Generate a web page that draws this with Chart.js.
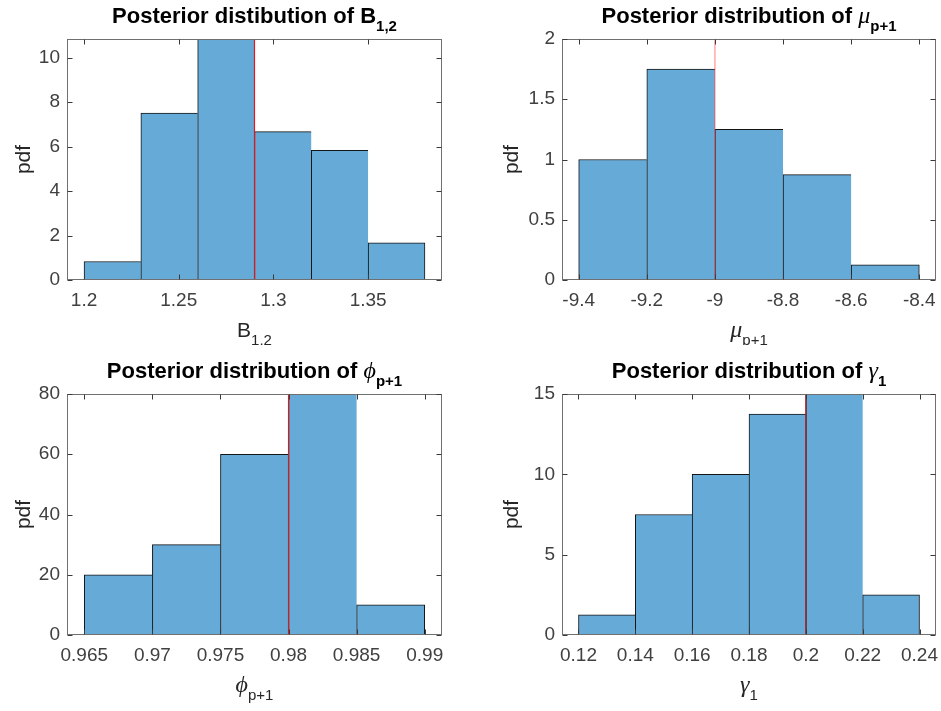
<!DOCTYPE html>
<html>
<head>
<meta charset="utf-8">
<script src="https://cdn.jsdelivr.net/npm/chart.js@4.4.0/dist/chart.umd.min.js"></script>
<style>
  html, body { margin: 0; padding: 0; background: #fff; }
  #wrap { position: relative; width: 941px; height: 711px; overflow: hidden; }
  canvas { position: absolute; }
</style>
</head>
<body>
<div id="wrap">
  <canvas id="cB" width="470" height="345" style="left:0;top:0"></canvas>
  <canvas id="cMu" width="471" height="345" style="left:470px;top:0"></canvas>
  <canvas id="cPhi" width="470" height="366" style="left:0;top:345px"></canvas>
  <canvas id="cGamma" width="471" height="366" style="left:470px;top:345px"></canvas>
</div>
<script>
// --- DATA: bin edges, pdf heights, true values, axis ticks ---
const bEdges = [1.20, 1.23, 1.26, 1.29, 1.32, 1.35, 1.38];
const bPdf = [0.833, 7.5, 10.833, 6.667, 5.833, 1.667];
const bTrue = 1.29;
const bXTicks = [1.2, 1.25, 1.3, 1.35];
const bYTicks = [0, 2, 4, 6, 8, 10];
const bXRange = [1.191, 1.389];
const bYRange = [0, 10.833];

const muEdges = [-9.4, -9.2, -9.0, -8.8, -8.6, -8.4];
const muPdf = [1.0, 1.75, 1.25, 0.875, 0.125];
const muTrue = -9.0;
const muXTicks = [-9.4, -9.2, -9, -8.8, -8.6, -8.4];
const muYTicks = [0, 0.5, 1, 1.5, 2];
const muXRange = [-9.449, -8.351];
const muYRange = [0, 2];

const phiEdges = [0.965, 0.970, 0.975, 0.980, 0.985, 0.990];
const phiPdf = [20, 30, 60, 80, 10];
const phiTrue = 0.98;
const phiXTicks = [0.965, 0.97, 0.975, 0.98, 0.985, 0.99];
const phiYTicks = [0, 20, 40, 60, 80];
const phiXRange = [0.96373, 0.99127];
const phiYRange = [0, 80];

const gEdges = [0.12, 0.14, 0.16, 0.18, 0.20, 0.22, 0.24];
const gPdf = [1.25, 7.5, 10, 13.75, 15, 2.5];
const gTrue = 0.2;
const gXTicks = [0.12, 0.14, 0.16, 0.18, 0.2, 0.22, 0.24];
const gYTicks = [0, 5, 10, 15];
const gXRange = [0.1142, 0.2458];
const gYRange = [0, 15];

// --- STYLE ---
const SANS = '"Liberation Sans", Arial, Helvetica, sans-serif';
const GREEK = '"Liberation Serif", "DejaVu Serif", serif';
const BAR_FILL = '#66aad7';
const BAR_EDGE = '#141414';
const AXIS_COLOR = '#707070';
const TICK_TEXT = '#404040';

const titleFont = `bold 22px ${SANS}`;
const titleSub = `bold 15px ${SANS}`;
const greekFont = `italic 24px ${GREEK}`;
const labelFont = `21px ${SANS}`;
const labelSub = `15px ${SANS}`;

const panels = [
  {
    id: 'cB', edges: bEdges, pdf: bPdf, truth: bTrue,
    xTicks: bXTicks, yTicks: bYTicks, xRange: bXRange, yRange: bYRange,
    pad: { left: 67, right: 28, top: 39, xAxisH: 65 }, ylabelX: 24,
    lineColor: '#e3161d',
    title: [{ text: 'Posterior distibution of B', font: titleFont }, { text: '1,2', font: titleSub, dy: 8.5 }],
    xlabel: [{ text: 'B', font: labelFont }, { text: '1,2', font: labelSub, dy: 8.5 }]
  },
  {
    id: 'cMu', edges: muEdges, pdf: muPdf, truth: muTrue,
    xTicks: muXTicks, yTicks: muYTicks, xRange: muXRange, yRange: muYRange,
    pad: { left: 92, right: 5, top: 39, xAxisH: 65 }, ylabelX: 42,
    lineColor: 'rgba(255,40,40,0.5)',
    title: [{ text: 'Posterior distribution of ', font: titleFont }, { text: 'μ', font: greekFont }, { text: 'p+1', font: titleSub, dy: 8.5 }],
    xlabel: [{ text: 'μ', font: greekFont }, { text: 'p+1', font: labelSub, dy: 8.5 }]
  },
  {
    id: 'cPhi', edges: phiEdges, pdf: phiPdf, truth: phiTrue,
    xTicks: phiXTicks, yTicks: phiYTicks, xRange: phiXRange, yRange: phiYRange,
    pad: { left: 67, right: 28, top: 49, xAxisH: 76 }, ylabelX: 24,
    lineColor: '#d71920',
    title: [{ text: 'Posterior distribution of ', font: titleFont }, { text: 'ϕ', font: greekFont }, { text: 'p+1', font: titleSub, dy: 8.5 }],
    xlabel: [{ text: 'ϕ', font: greekFont }, { text: 'p+1', font: labelSub, dy: 8.5 }]
  },
  {
    id: 'cGamma', edges: gEdges, pdf: gPdf, truth: gTrue,
    xTicks: gXTicks, yTicks: gYTicks, xRange: gXRange, yRange: gYRange,
    pad: { left: 92, right: 5, top: 49, xAxisH: 76 }, ylabelX: 42,
    lineColor: '#b3141a',
    title: [{ text: 'Posterior distribution of ', font: titleFont }, { text: 'γ', font: greekFont }, { text: '1', font: titleSub, dy: 8.5 }],
    xlabel: [{ text: 'γ', font: greekFont }, { text: '1', font: labelSub, dy: 8.5 }]
  }
];

// draws a run of text pieces (with subscripts) centred on cx
function drawRich(ctx, parts, cx, y, color) {
  let total = 0;
  parts.forEach(p => { ctx.font = p.font; p.w = ctx.measureText(p.text).width; total += p.w; });
  let x = cx - total / 2;
  ctx.fillStyle = color;
  ctx.textAlign = 'left';
  ctx.textBaseline = 'alphabetic';
  parts.forEach(p => {
    ctx.font = p.font;
    ctx.fillText(p.text, x, y + (p.dy || 0));
    x += p.w;
  });
}

// box, inward ticks, title and axis labels
const framePlugin = {
  id: 'frame',
  afterDraw(chart, args, opts) {
    const p = opts.panel;
    const { ctx, chartArea: a, scales } = chart;
    ctx.save();
    ctx.strokeStyle = AXIS_COLOR;
    ctx.lineWidth = 1;
    const L = Math.round(a.left) + 0.5, R = Math.round(a.right) - 0.5;
    const T = Math.round(a.top) + 0.5, B = Math.round(a.bottom) - 0.5;
    ctx.strokeRect(L, T, R - L, B - T);

    ctx.strokeStyle = '#3a3a3a';
    ctx.beginPath();
    p.xTicks.forEach(v => {
      const px = Math.round(scales.x.getPixelForValue(v)) + 0.5;
      ctx.moveTo(px, B); ctx.lineTo(px, B - 5);
      ctx.moveTo(px, T); ctx.lineTo(px, T + 5);
    });
    p.yTicks.forEach(v => {
      const py = Math.round(scales.y.getPixelForValue(v)) + 0.5;
      ctx.moveTo(L, py); ctx.lineTo(L + 5, py);
      ctx.moveTo(R, py); ctx.lineTo(R - 5, py);
    });
    ctx.stroke();

    const cx = (a.left + a.right) / 2;
    drawRich(ctx, p.title, cx, a.top - 16.5, '#000');
    drawRich(ctx, p.xlabel, cx, a.bottom + 56.5, '#262626');

    ctx.translate(p.ylabelX, (a.top + a.bottom) / 2);
    ctx.rotate(-Math.PI / 2);
    ctx.font = labelFont;
    ctx.fillStyle = '#262626';
    ctx.textAlign = 'center';
    ctx.textBaseline = 'middle';
    ctx.fillText('pdf', 0, 0);
    ctx.restore();
  }
};

function buildPanel(p) {
  const n = p.pdf.length;
  const bars = p.pdf.map((v, i) => ({ x: (p.edges[i] + p.edges[i + 1]) / 2, y: v }));
  const tickFont = { family: SANS, size: 19 };

  new Chart(document.getElementById(p.id), {
    type: 'bar',
    data: {
      datasets: [
        {
          type: 'line',
          data: [{ x: p.truth, y: p.yRange[0] }, { x: p.truth, y: p.yRange[1] }],
          borderColor: p.lineColor,
          borderWidth: 1.2,
          pointRadius: 0,
          order: 0
        },
        {
          type: 'bar',
          data: bars,
          backgroundColor: BAR_FILL,
          borderColor: BAR_EDGE,
          borderWidth: c => ({ top: 1, left: 1, bottom: 1, right: c.dataIndex === n - 1 ? 1 : 0 }),
          borderSkipped: false,
          barPercentage: 1,
          categoryPercentage: 1,
          order: 1
        }
      ]
    },
    options: {
      responsive: false,
      animation: false,
      devicePixelRatio: 1,
      layout: { padding: { left: 0, right: p.pad.right, top: p.pad.top, bottom: 0 } },
      plugins: {
        legend: { display: false },
        tooltip: { enabled: false },
        frame: { panel: p }
      },
      scales: {
        x: {
          type: 'linear',
          offset: false,
          min: p.xRange[0],
          max: p.xRange[1],
          grid: { display: false, drawTicks: false },
          border: { display: false },
          ticks: { font: tickFont, color: TICK_TEXT, padding: 9, maxRotation: 0, autoSkip: false, callback: v => String(v) },
          afterBuildTicks: s => { s.ticks = p.xTicks.map(v => ({ value: v })); },
          afterFit: s => { s.height = p.pad.xAxisH; s.paddingLeft = 0; s.paddingRight = 0; }
        },
        y: {
          min: p.yRange[0],
          max: p.yRange[1],
          grid: { display: false, drawTicks: false },
          border: { display: false },
          ticks: { font: tickFont, color: TICK_TEXT, padding: 7, autoSkip: false, callback: v => String(v) },
          afterBuildTicks: s => { s.ticks = p.yTicks.map(v => ({ value: v })); },
          afterFit: s => { s.width = p.pad.left; s.paddingTop = 0; s.paddingBottom = 0; }
        }
      }
    },
    plugins: [framePlugin]
  });
}

panels.forEach(buildPanel);
</script>
</body>
</html>
